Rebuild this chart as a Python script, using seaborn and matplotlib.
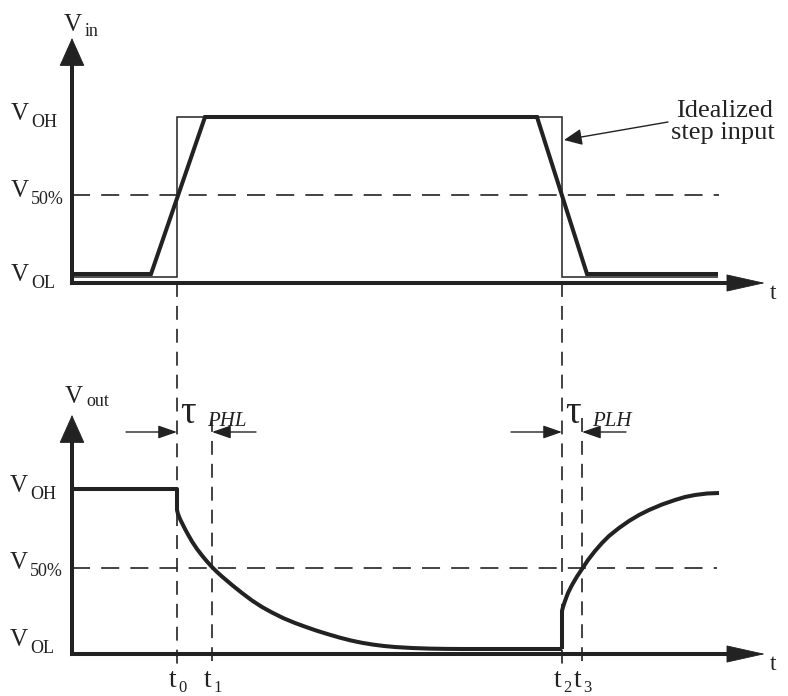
import matplotlib
matplotlib.use("Agg")
import matplotlib.pyplot as plt
import seaborn as sns

sns.set_style("white")
plt.rcParams["font.family"] = ["Liberation Serif", "DejaVu Serif"]
plt.rcParams["lines.scale_dashes"] = False

INK = "#222222"

# ---------------------------------------------------------------------------
# Data (time in arbitrary units, voltage in arbitrary units)
# ---------------------------------------------------------------------------
# switching instants t0..t3
t_marks = [105, 140, 490, 510]
t_mark_names = ["0", "1", "2", "3"]

# input: real waveform with finite rise / fall times
vin_t = [0, 79, 133, 465, 515, 646]
vin_v = [9, 9, 166, 166, 9, 9]
# input: idealized step
step_t = [0, 105, 105, 490, 490, 646]
step_v = [6, 6, 166, 166, 6, 6]
vin_half = 88
vin_levels = [166, 88, 9]

# output: high-to-low transition
fall_t = [0, 105, 105, 106, 108, 110, 113, 116, 120, 125, 130, 135, 140, 145,
          150, 160, 170, 180, 190, 200, 211, 223, 234, 245, 257, 268, 279, 290,
          301, 312, 323, 340, 357, 375, 390, 490]
fall_v = [165, 165, 144, 140, 135, 131, 125, 119.5, 112.5, 105, 98.5, 92.5, 87, 82,
          77.5, 69, 61, 53.5, 47, 41.5, 36, 31, 27, 23.2, 19.5, 16.3, 13.5, 11.2,
          9.4, 8.0, 7.0, 6.0, 5.4, 5.1, 5, 5]
# output: low-to-high transition
rise_t = [490, 490, 491, 493, 496, 500, 505, 510, 516, 523, 530, 537, 547, 557,
          567, 577, 590, 603, 613, 623, 635, 647]
rise_v = [5, 43, 47, 53, 61, 69, 77.5, 85, 94, 103, 111, 118, 126, 133,
          139, 144, 149.5, 154, 157, 159, 160.5, 161]
vout_half = 86
vout_levels = [165, 86, 5]

level_names = ["OH", "50%", "OL"]

# ---------------------------------------------------------------------------
fig = plt.figure(figsize=(7.88, 6.96), dpi=100)
ax_in = fig.add_axes([0, 0.5, 1, 0.5])
ax_out = fig.add_axes([0, 0, 1, 0.5])
ax_in.set_xlim(-72, 716)
ax_in.set_ylim(-65, 283)
ax_out.set_xlim(-72, 716)
ax_out.set_ylim(-42, 306)
for a in (ax_in, ax_out):
    a.axis("off")

THICK, THIN, DASH_W = 2.9, 1.1, 1.2
H_DASH = (0, (13, 8))
V_DASH = (0, (10, 6.5))


def trace(ax, t, v, lw, ls="-", clip=True, cap="butt", join="miter"):
    sns.lineplot(x=t, y=v, ax=ax, color=INK, linewidth=lw, linestyle=ls,
                 sort=False, estimator=None, clip_on=clip,
                 solid_capstyle=cap, solid_joinstyle=join)


def head(ax, tail, tip, length, half_width, lw=0.6):
    ax.annotate("", xy=tip, xytext=tail,
                arrowprops=dict(arrowstyle=f"-|>,head_length={length},head_width={half_width}",
                                mutation_scale=1, color=INK, lw=lw,
                                shrinkA=0, shrinkB=0),
                annotation_clip=False)


def axes_frame(ax, x_tip, y_tip):
    # vertical voltage axis and horizontal time axis with solid arrowheads
    trace(ax, [0, 0], [0, y_tip - 24], THICK, cap="projecting")
    trace(ax, [0, x_tip - 34], [0, 0], THICK, cap="projecting")
    head(ax, (0, y_tip - 26), (0, y_tip), 19, 8.5)
    head(ax, (x_tip - 36, 0), (x_tip, 0), 26, 5.8)
    ax.text(x_tip + 5, -16, "t", fontsize=17, color=INK, ha="left", va="baseline")


def v_label(ax, x, base, sub, size=18, sub_size=13, dx=20, drop=7):
    ax.text(x, base, "V", fontsize=size, color=INK, ha="left", va="baseline")
    ax.text(x + dx, base - drop, sub, fontsize=sub_size, color=INK,
            ha="left", va="baseline")


# ---------------------------- input panel ----------------------------------
axes_frame(ax_in, 693, 245)
trace(ax_in, step_t, step_v, THIN)
trace(ax_in, vin_t, vin_v, THICK)
trace(ax_in, [0, 647], [vin_half, vin_half], DASH_W, ls=H_DASH)

v_label(ax_in, -8, 252, "in", sub_size=13, dx=21, drop=5)
for name, lvl, base in zip(level_names, vin_levels, [163, 86, 2]):
    v_label(ax_in, -61, base, name)

ax_in.text(653, 166, "Idealized", fontsize=19, color=INK, ha="center", va="baseline")
ax_in.text(651, 144, "step input", fontsize=19, color=INK, ha="center", va="baseline")
ax_in.annotate("", xy=(492, 143), xytext=(596, 161),
               arrowprops=dict(arrowstyle="-|>,head_length=11,head_width=5",
                               mutation_scale=1, color=INK, lw=1.0,
                               shrinkA=0, shrinkB=0))

# ---------------------------- output panel ---------------------------------
axes_frame(ax_out, 693, 239)
trace(ax_out, fall_t, fall_v, THICK, join="round")
trace(ax_out, rise_t, rise_v, THICK, join="round")
trace(ax_out, [0, 645], [vout_half, vout_half], DASH_W, ls=H_DASH)

v_label(ax_out, -7, 251, "out", sub_size=13, dx=21, drop=3)
for name, lvl, base in zip(level_names, vout_levels, [162, 85, 8]):
    v_label(ax_out, -62, base, name)

# dashed markers linking input edges to the output crossings
tops = [371, 236, 371, 236]
for tm, top, name in zip(t_marks, tops, t_mark_names):
    trace(ax_out, [tm, tm], [top, -13], DASH_W, ls=V_DASH, clip=False)
    ax_out.text(tm - 8, -33, "t", fontsize=20, color=INK, ha="left", va="baseline")
    ax_out.text(tm + 1, -38, name, fontsize=12, color=INK, ha="left", va="baseline")

# propagation-delay brackets
delays = [("PHL", t_marks[0], t_marks[1]), ("PLH", t_marks[2], t_marks[3])]
for name, ta, tb in delays:
    y = 222
    ax_out.annotate("", xy=(ta, y), xytext=(ta - 51, y),
                    arrowprops=dict(arrowstyle="-|>,head_length=11.5,head_width=4",
                                    mutation_scale=1, color=INK, lw=1.0,
                                    shrinkA=0, shrinkB=0))
    ax_out.annotate("", xy=(tb, y), xytext=(tb + 44, y),
                    arrowprops=dict(arrowstyle="-|>,head_length=11.5,head_width=4",
                                    mutation_scale=1, color=INK, lw=1.0,
                                    shrinkA=0, shrinkB=0))
    ax_out.text(ta + 3, 231, "τ", fontsize=28, color=INK, ha="left", va="baseline")
    ax_out.text(ta + 30, 228, name, fontsize=15, color=INK, style="italic",
                ha="left", va="baseline")

fig.savefig("out.png", dpi=100, facecolor="white")
